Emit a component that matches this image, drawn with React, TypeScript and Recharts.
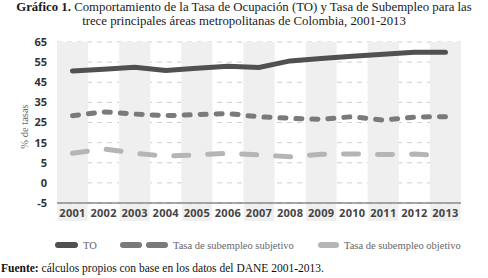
import React from 'react';
import { LineChart, Line, XAxis, YAxis, CartesianGrid, ReferenceArea } from 'recharts';

const years = ['2001', '2002', '2003', '2004', '2005', '2006', '2007', '2008', '2009', '2010', '2011', '2012', '2013'];
const toValues = [50.6, 51.5, 52.5, 50.8, 52.0, 53.0, 52.3, 55.6, 56.8, 57.9, 58.9, 59.9, 59.9];
const subjetivoValues = [28.4, 30.3, 29.2, 28.4, 28.9, 29.5, 27.8, 27.1, 26.6, 27.9, 26.2, 27.7, 27.9];
const objetivoValues = [9.7, 11.9, 9.7, 8.3, 8.9, 9.7, 8.9, 8.0, 9.2, 9.4, 9.1, 9.3, 8.4];
const yTicks = [-15, -5, 5, 15, 25, 35, 45, 55, 65];
const yTickLabels = ['-5', '0', '5', '15', '25', '35', '45', '55', '65'];
const shadedYears = years.filter((_, i) => i % 2 === 0);

const titleBold = 'Gráfico 1.';
const titleLine1 = ' Comportamiento de la Tasa de Ocupación (TO) y Tasa de Subempleo para las';
const titleLine2 = 'trece principales áreas metropolitanas de Colombia, 2001-2013';
const yLabel = '% de tasas';
const sourceBold = 'Fuente:';
const sourceText = ' cálculos propios con base en los datos del DANE 2001-2013.';

const series = [
  { key: 'to', name: 'TO', color: '#505050', dash: undefined as string | undefined, legendDashes: [23], legendLeft: 55 },
  { key: 'subj', name: 'Tasa de subempleo subjetivo', color: '#7a7a7a', dash: '6 10', legendDashes: [22, 22], legendLeft: 120 },
  { key: 'obj', name: 'Tasa de subempleo objetivo', color: '#b5b5b5', dash: '15 19', legendDashes: [21], legendLeft: 318 },
];

const data = years.map((year, i) => ({
  year,
  to: toValues[i],
  subj: subjetivoValues[i],
  obj: objetivoValues[i],
}));

const serif = '"Liberation Serif", "DejaVu Serif", serif';
const sans = '"Open Sans", "Noto Sans", sans-serif';

const XTick = (props: any) => {
  const { x, y, payload } = props;
  const idx = years.indexOf(String(payload.value));
  const shaded = idx % 2 === 0;
  return (
    <g>
      {shaded && <rect x={x - 15} y={y + 1} width={30} height={17} fill="#efefef" />}
      <text x={x} y={y + 13.5} textAnchor="middle" fontFamily={sans} fontWeight={700} fontSize={11} fill="#444" letterSpacing={0.3}>
        {payload.value}
      </text>
    </g>
  );
};

const YLabel = (props: any) => {
  const vb = props.viewBox || { x: 0, y: 0, height: 0 };
  const cx = 24;
  const cy = vb.y + vb.height / 2 + 4;
  return (
    <text x={cx} y={cy} transform={`rotate(-90 ${cx} ${cy})`} textAnchor="middle" dominantBaseline="central" fontFamily={serif} fontSize={10.5} fill="#666">
      {yLabel}
    </text>
  );
};

export default function App() {
  return (
    <div style={{ position: 'absolute', left: 0, top: 0, width: 488, height: 278, background: '#fff', overflow: 'hidden' }}>
      <div style={{ position: 'absolute', left: 0, top: 0, width: 488, textAlign: 'center', fontFamily: serif, fontSize: 12.8, lineHeight: '14px', color: '#1a1a1a' }}>
        <div><b>{titleBold}</b>{titleLine1}</div>
        <div>{titleLine2}</div>
      </div>
      <div style={{ position: 'absolute', left: 0, top: 0 }}>
        <LineChart width={488} height={278} data={data} margin={{ top: 42, right: 27, left: 0, bottom: 45 }}>
          {shadedYears.map((y) => (
            <ReferenceArea key={y} x1={y} x2={y} y1={-15} y2={65} fill="#efefef" fillOpacity={1} stroke="none" ifOverflow="visible" />
          ))}
          <CartesianGrid horizontal vertical={false} stroke="#cfcfcf" strokeDasharray="5 5" />
          <XAxis
            dataKey="year"
            scale="band"
            axisLine={{ stroke: '#555', strokeWidth: 1 }}
            tickLine={false}
            tickSize={0}
            tickMargin={0}
            height={30}
            interval={0}
            tick={<XTick />}
          />
          <YAxis
            type="number"
            domain={[-15, 65]}
            ticks={yTicks}
            interval={0}
            width={57}
            axisLine={false}
            tickLine={false}
            tickSize={0}
            tickMargin={10}
            tickFormatter={(v: number) => yTickLabels[yTicks.indexOf(v)]}
            tick={{ fontFamily: sans, fontWeight: 700, fontSize: 11, fill: '#333' }}
            label={<YLabel />}
          />
          {series.map((s) => (
            <Line
              key={s.key}
              dataKey={s.key}
              name={s.name}
              type="linear"
              stroke={s.color}
              strokeWidth={5}
              strokeDasharray={s.dash}
              strokeLinecap="round"
              dot={false}
              activeDot={false}
              isAnimationActive={false}
            />
          ))}
        </LineChart>
      </div>
      {series.map((s) => (
        <div key={s.key} style={{ position: 'absolute', left: s.legendLeft, top: 238, height: 14, display: 'flex', alignItems: 'center' }}>
          {s.legendDashes.map((w, i) => (
            <div key={i} style={{ width: w, height: 6, borderRadius: 3, background: s.color, marginRight: 4 }} />
          ))}
          <span style={{ fontFamily: serif, fontSize: 10.5, color: '#666', marginLeft: 1 }}>{s.name}</span>
        </div>
      ))}
      <div style={{ position: 'absolute', left: 1, top: 262, fontFamily: serif, fontSize: 11.5, color: '#111', whiteSpace: 'nowrap' }}>
        <b>{sourceBold}</b>{sourceText}
      </div>
    </div>
  );
}
